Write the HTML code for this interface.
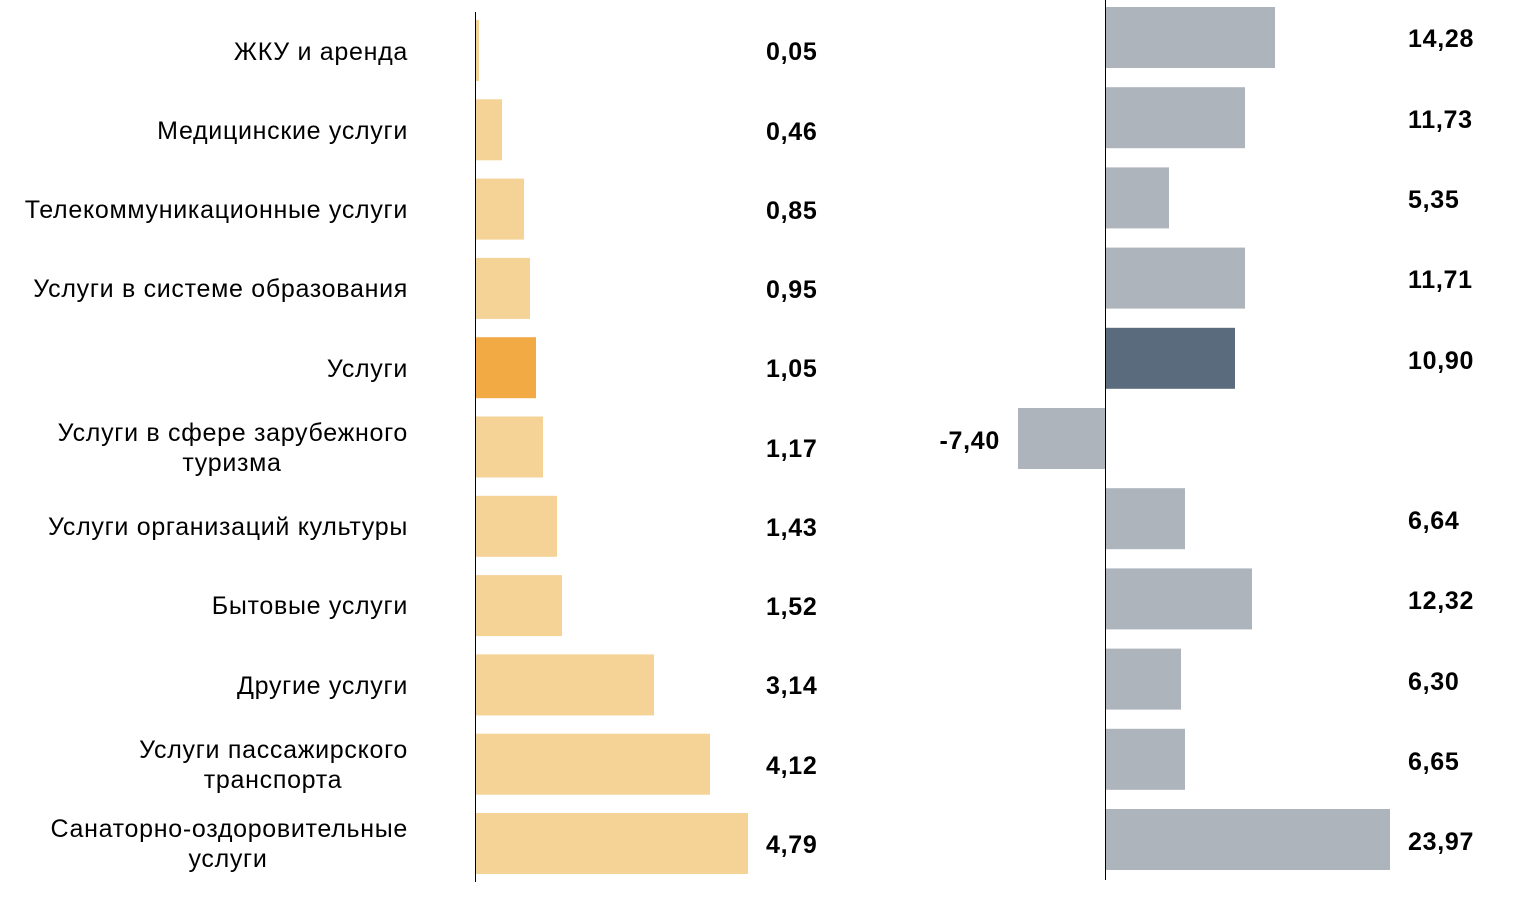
<!DOCTYPE html>
<html><head><meta charset="utf-8"><style>
html,body{margin:0;padding:0;background:#fff;}
svg text{font-family:"Liberation Sans",Arial,sans-serif;font-size:25px;letter-spacing:0.7px;fill:#000;}
.v{font-weight:bold;}
</style></head><body>
<svg width="1516" height="910" xmlns="http://www.w3.org/2000/svg">
<g id="left">
<rect x="476" y="20" width="3" height="61" fill="#F5D296"/>
<rect x="476" y="99.3" width="26" height="61" fill="#F5D296"/>
<rect x="476" y="178.6" width="48" height="61" fill="#F5D296"/>
<rect x="476" y="257.9" width="54" height="61" fill="#F5D296"/>
<rect x="476" y="337.2" width="60" height="61" fill="#F2AA44"/>
<rect x="476" y="416.5" width="67" height="61" fill="#F5D296"/>
<rect x="476" y="495.8" width="81" height="61" fill="#F5D296"/>
<rect x="476" y="575.1" width="86" height="61" fill="#F5D296"/>
<rect x="476" y="654.4" width="178" height="61" fill="#F5D296"/>
<rect x="476" y="733.7" width="234" height="61" fill="#F5D296"/>
<rect x="476" y="813" width="272" height="61" fill="#F5D296"/>
<line x1="475.5" y1="12" x2="475.5" y2="882" stroke="#000" stroke-width="1"/>
<g text-anchor="end">
<text x="408" y="60">ЖКУ и аренда</text>
<text x="408" y="139">Медицинские услуги</text>
<text x="408" y="218">Телекоммуникационные услуги</text>
<text x="408" y="297">Услуги в системе образования</text>
<text x="408" y="377">Услуги</text>
<text x="408" y="441">Услуги в сфере зарубежного</text>
<text x="408" y="535">Услуги организаций культуры</text>
<text x="408" y="614">Бытовые услуги</text>
<text x="408" y="694">Другие услуги</text>
<text x="408" y="758">Услуги пассажирского</text>
<text x="408" y="837">Санаторно-оздоровительные</text>
</g>
<g text-anchor="middle">
<text x="232" y="471">туризма</text>
<text x="273" y="788">транспорта</text>
<text x="228" y="867">услуги</text>
</g>
<text class="v" x="766" y="60">0,05</text>
<text class="v" x="766" y="140">0,46</text>
<text class="v" x="766" y="219">0,85</text>
<text class="v" x="766" y="298">0,95</text>
<text class="v" x="766" y="377">1,05</text>
<text class="v" x="766" y="457">1,17</text>
<text class="v" x="766" y="536">1,43</text>
<text class="v" x="766" y="615">1,52</text>
<text class="v" x="766" y="694">3,14</text>
<text class="v" x="766" y="774">4,12</text>
<text class="v" x="766" y="853">4,79</text>
</g>
<g id="right">
<rect x="1106" y="7" width="169" height="61" fill="#ADB4BB"/>
<rect x="1106" y="87.2" width="139" height="61" fill="#ADB4BB"/>
<rect x="1106" y="167.4" width="63" height="61" fill="#ADB4BB"/>
<rect x="1106" y="247.6" width="139" height="61" fill="#ADB4BB"/>
<rect x="1106" y="327.8" width="129" height="61" fill="#5A6B7E"/>
<rect x="1018" y="408" width="88" height="61" fill="#ADB4BB"/>
<rect x="1106" y="488.2" width="79" height="61" fill="#ADB4BB"/>
<rect x="1106" y="568.4" width="146" height="61" fill="#ADB4BB"/>
<rect x="1106" y="648.6" width="75" height="61" fill="#ADB4BB"/>
<rect x="1106" y="728.8" width="79" height="61" fill="#ADB4BB"/>
<rect x="1106" y="809" width="284" height="61" fill="#ADB4BB"/>
<line x1="1105.5" y1="0" x2="1105.5" y2="880" stroke="#000" stroke-width="1"/>
<text class="v" x="1408" y="47">14,28</text>
<text class="v" x="1408" y="128">11,73</text>
<text class="v" x="1408" y="208">5,35</text>
<text class="v" x="1408" y="288">11,71</text>
<text class="v" x="1408" y="369">10,90</text>
<text class="v" x="1000" y="449" text-anchor="end">-7,40</text>
<text class="v" x="1408" y="529">6,64</text>
<text class="v" x="1408" y="609">12,32</text>
<text class="v" x="1408" y="690">6,30</text>
<text class="v" x="1408" y="770">6,65</text>
<text class="v" x="1408" y="850">23,97</text>
</g>
</svg>
</body></html>
